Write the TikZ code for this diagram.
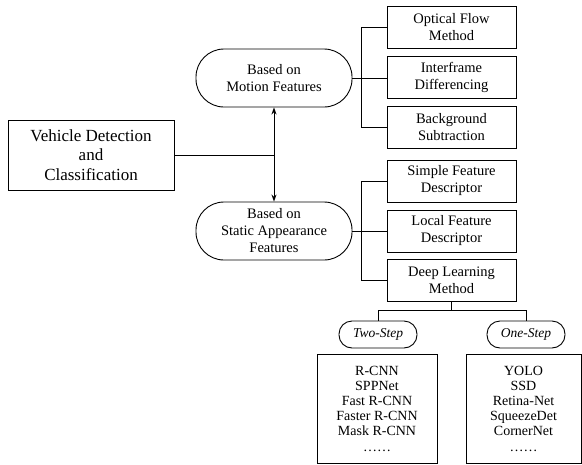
\documentclass[tikz,border=0pt]{standalone}
\usepackage{fontspec}
\setmainfont{Liberation Serif}
\usepackage{tikz}
\usetikzlibrary{arrows.meta}

\begin{document}
\begin{tikzpicture}[x=1pt, y=-1pt, line width=0.9pt,
    box/.style={draw, align=center, inner sep=0pt,
      minimum width=129pt, minimum height=42pt,
      font=\fontsize{14.5}{17}\selectfont},
    pill/.style={draw, rounded corners=28pt, align=center, inner sep=0pt,
      minimum width=156pt, minimum height=58pt,
      font=\fontsize{14.5}{17}\selectfont},
    tag/.style={draw, rounded corners=13pt, inner sep=0pt,
      minimum width=78pt, minimum height=27pt,
      font=\fontsize{13.5}{16}\selectfont\itshape},
    list/.style={draw, align=center, inner sep=0pt,
      minimum height=109pt, font=\fontsize{14}{15.2}\selectfont}]
    \useasboundingbox (0,0) rectangle (582,464);

    \node [draw, align=center, inner sep=0pt, minimum width=166pt,
    minimum height=70pt, font=\fontsize{17}{19.5}\selectfont]
    (vdc) at (91,155) {Vehicle Detection\\and\\Classification};

    \node [pill] (motion) at (274,78) {Based on\\Motion Features};
    \node [pill] (static) at (274,231) {Based on\\Static Appearance\\Features};

    \node [box] (optical) at (451.5,27) {Optical Flow\\Method};
    \node [box] (inter) at (451.5,77.5) {Interframe\\Differencing};
    \node [box] (backgr) at (451.5,127.5) {Background\\Subtraction};

    \node [box] (simple) at (451.5,181) {Simple Feature\\Descriptor};
    \node [box] (local) at (451.5,231) {Local Feature\\Descriptor};
    \node [box] (deep) at (451.5,280.5) {Deep Learning\\Method};

    \node [tag] (twostep) at (378,334.5) {Two-Step};
    \node [tag] (onestep) at (526,334.5) {One-Step};

    \node [list, minimum width=120pt] (twolist) at (377,408.5)
    {R-CNN\\SPPNet\\Fast R-CNN\\Faster R-CNN\\Mask R-CNN\\……};
    \node [list, minimum width=115pt] (onelist) at (523.5,408.5)
    {YOLO\\SSD\\Retina-Net\\SqueezeDet\\CornerNet\\……};

    % connectors
    \coordinate (hub) at (motion.south |- vdc.east);
    \draw (vdc.east) -- (hub);
    \draw [{Stealth[length=7pt,width=5pt]}-{Stealth[length=7pt,width=5pt]}]
    (motion.south) -- (static.north);

    \draw (motion.east) -- (motion.east -| inter.west);
    \draw (optical.west) -- ++(-25,0) |- (backgr.west);

    \draw (static.east) -- (static.east -| local.west);
    \draw (simple.west) -- ++(-25,0) |- (deep.west);

    \draw (deep.south) -- ++(0,8) coordinate (split);
    \draw (twostep.north) |- (split) -| (onestep.north);
  \end{tikzpicture}
\end{document}
